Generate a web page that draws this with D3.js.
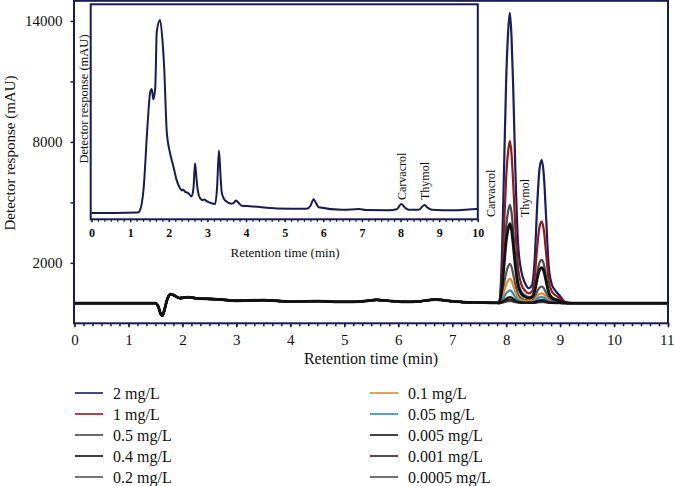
<!DOCTYPE html>
<html><head><meta charset="utf-8">
<script src="https://cdn.jsdelivr.net/npm/d3@7"></script>
<style>body{margin:0;background:#fff}svg{display:block}text{font-family:"Liberation Serif","Times New Roman",serif;fill:#111}</style>
</head><body><svg id="c" width="674" height="486"></svg>
<script>
// ---------- data ----------
const seriesLabels = ["2 mg/L","1 mg/L","0.5 mg/L","0.4 mg/L","0.2 mg/L","0.1 mg/L","0.05 mg/L","0.005 mg/L","0.001 mg/L","0.0005 mg/L"];
const seriesColors = ["#1c1c5e","#8e1b1f","#4a4a4a","#111111","#555555","#e08a2c","#3f86b0","#141414","#2e2222","#505050"];
// drawing order (darkest lines on top)
const drawOrder = [0,1,2,4,9,5,6,8,7,3];
// shared baseline section (0 - 7.8 min)
const baseT = [0,0.8,1.5,1.55,1.6,1.63,1.67,1.72,1.78,1.85,1.95,2.1,2.3,2.6,3.0,3.5,4.0,4.5,5.0,5.3,5.6,5.8,6.1,6.4,6.7,6.9,7.2,7.5,7.8];
const baseV = [0,0,0,-150,-550,-620,-300,200,450,380,250,300,220,200,120,150,80,100,60,80,160,120,60,90,180,120,50,30,10];
// peak section (7.8 - 11 min)
const peakT = [7.8,7.87,7.92,7.96,8.0,8.04,8.07,8.1,8.13,8.17,8.22,8.28,8.35,8.42,8.48,8.53,8.58,8.62,8.66,8.7,8.74,8.79,8.85,8.92,9.0,9.08,9.15,9.3,9.6,10,10.5,11];
const s2mg    = [0,100,2200,6500,11000,13600,14400,13200,10800,6700,3000,1600,1000,740,900,2200,5100,6700,7100,6300,4300,1800,900,600,350,80,20,0,0,0,0,0];
const s1mg    = [0,60,1300,3700,6200,7600,8050,7400,6000,3800,1800,950,620,480,580,1300,2900,3800,4040,3600,2500,1100,560,380,230,60,10,0,0,0,0,0];
const s05mg   = [0,40,800,2300,3800,4600,4880,4500,3600,2300,1100,580,380,300,350,720,1550,2020,2150,1920,1330,600,300,200,120,30,5,0,0,0,0,0];
const s04mg   = [0,30,650,1850,3050,3720,3950,3640,2930,1850,880,470,310,250,290,590,1270,1650,1760,1570,1090,490,250,170,100,25,5,0,0,0,0,0];
const s02mg   = [0,15,320,920,1500,1840,1950,1800,1450,920,440,240,160,130,140,280,600,770,820,730,510,230,120,80,50,15,0,0,0,0,0,0];
const s01mg   = [0,10,200,560,920,1130,1200,1110,890,570,270,150,100,85,90,170,350,450,480,430,300,140,70,50,30,10,0,0,0,0,0,0];
const s005mg  = [0,5,100,300,480,590,640,590,470,300,150,80,55,45,50,110,220,285,300,270,190,85,45,30,20,5,0,0,0,0,0,0];
const s0005mg = [0,2,50,130,220,280,300,280,220,140,70,40,30,25,28,50,100,135,150,135,95,45,25,15,10,0,0,0,0,0,0,0];
const s0001mg = [0,1,30,80,130,165,180,165,130,85,45,25,20,18,20,30,60,82,90,80,56,28,15,10,6,0,0,0,0,0,0,0];
const s00005mg= [0,1,15,45,75,95,100,95,75,48,25,15,12,10,12,18,35,46,50,45,32,16,8,5,3,0,0,0,0,0,0,0];
const peakValues = [s2mg,s1mg,s05mg,s04mg,s02mg,s01mg,s005mg,s0005mg,s0001mg,s00005mg];
// main axes ticks
const xTicks = [0,1,2,3,4,5,6,7,8,9,10,11];
const yTicks = [2000,5000,8000,11000,14000];
const yTickLabels = ["2000","","8000","","14000"];
// inset chromatogram (sample)
const insetT = [0,0.6,1.2,1.26,1.35,1.45,1.52,1.56,1.6,1.65,1.69,1.775,1.84,1.88,1.95,2.03,2.12,2.2,2.29,2.35,2.38,2.42,2.51,2.59,2.64,2.68,2.72,2.75,2.81,2.87,2.92,2.97,3.03,3.2,3.25,3.3,3.34,3.37,3.46,3.63,3.7,3.74,3.8,3.89,4.1,4.8,5.57,5.67,5.75,5.82,5.88,6.5,6.93,7.1,7.7,7.9,8.02,8.12,8.21,8.47,8.62,8.7,8.81,9.37,9.97,10];
const insetV = [0,0,2,15,120,420,580,594,545,600,870,925,820,702,384,290,223,160,119,108,112,102,95,79,120,239,160,110,71,62,65,58,52,43,120,300,180,100,60,45,52,60,50,35,33,22,20,35,66,45,28,16,19,14,13,18,43,25,16,16,38,26,16,13,19,17];
const insetTicks = [0,1,2,3,4,5,6,7,8,9,10];

// ---------- scales ----------
const svg = d3.select("#c");
const navy = "#1b1b52";
const x = d3.scaleLinear().domain([0,11]).range([74.5,668]);
const y = d3.scaleLinear().domain([-1000,15000]).range([323.3,0.8]);
const xi = d3.scaleLinear().domain([0,10]).range([91.5,477.8]);
const yi = d3.scaleLinear().domain([-30,1000]).range([219.3,4.3]);

// ---------- main series ----------
const line = d3.line().x(d=>x(d[0])).y(d=>y(d[1])).curve(d3.curveMonotoneX);
const gS = svg.append("g");
drawOrder.forEach(i=>{
  const pv = peakValues[i];
  const pts = baseT.map((t,j)=>[t,baseV[j]]).concat(peakT.map((t,j)=>[t,pv[j]]).slice(1));
  gS.append("path").attr("d",line(pts)).attr("fill","none")
    .attr("stroke",seriesColors[i]).attr("stroke-width",i===3?2.8:2.2).attr("stroke-linejoin","round");
});

// main frame
svg.append("rect").attr("x",x(0)-0.5).attr("y",y(15000)).attr("width",x(11)-x(0)+0.5).attr("height",y(-1000)-y(15000))
  .attr("fill","none").attr("stroke",navy).attr("stroke-width",2);

// main x axis
const xMinor = d3.range(0,66+1).map(i=>i/6);
const gx = svg.append("g").attr("transform",`translate(0,${y(-1000)})`);
gx.call(d3.axisBottom(x).tickValues(xMinor).tickSize(3).tickFormat(""));
gx.call(g=>g.select(".domain").remove());
gx.selectAll("line").attr("stroke",navy).attr("stroke-width",1.5);
const gx2 = svg.append("g").attr("transform",`translate(0,${y(-1000)})`)
  .call(d3.axisBottom(x).tickValues(xTicks).tickSize(4).tickPadding(7).tickFormat(d3.format("d")));
gx2.select(".domain").remove();
gx2.selectAll("line").attr("stroke",navy).attr("stroke-width",1.5);
gx2.selectAll("text").style("font-size","15px").style("font-family","Liberation Serif").attr("fill","#111");
gx2.selectAll("text").filter(d=>d===11).attr("text-anchor","end").attr("x",6);

// main y axis
const gy = svg.append("g").attr("transform",`translate(${x(0)},0)`)
  .call(d3.axisLeft(y).tickValues(yTicks).tickSize(4).tickPadding(8).tickFormat((d,i)=>yTickLabels[i]));
gy.select(".domain").remove();
gy.selectAll("line").attr("stroke",navy).attr("stroke-width",1.5);
gy.selectAll("text").style("font-size","15px").style("font-family","Liberation Serif").attr("fill","#111");

svg.append("text").attr("transform","translate(10,153) rotate(-90)").attr("text-anchor","middle").attr("dy","0.35em")
  .style("font-size","15px").text("Detector response (mAU)");
svg.append("text").attr("x",371).attr("y",358).attr("text-anchor","middle").attr("dy","0.35em")
  .style("font-size","16px").text("Retention time (min)");

// peak labels main
svg.append("text").attr("transform",`translate(${x(7.72)},217) rotate(-90)`).attr("dy","0.35em").style("font-size","12px").text("Carvacrol");
svg.append("text").attr("transform",`translate(${x(8.34)},217) rotate(-90)`).attr("dy","0.35em").style("font-size","12px").text("Thymol");

// ---------- inset ----------
svg.append("rect").attr("x",xi(0)-0.8).attr("y",yi(1000)).attr("width",xi(10)-xi(0)+0.8).attr("height",yi(-30)-yi(1000))
  .attr("fill","#fff").attr("stroke",navy).attr("stroke-width",2);
const lineI = d3.line().x(d=>xi(d[0])).y(d=>yi(d[1])).curve(d3.curveMonotoneX);
svg.append("path").attr("d",lineI(insetT.map((t,j)=>[t,insetV[j]]))).attr("fill","none")
  .attr("stroke",navy).attr("stroke-width",2).attr("stroke-linejoin","round");
const gix = svg.append("g").attr("transform",`translate(0,${yi(-30)})`)
  .call(d3.axisBottom(xi).tickValues(d3.range(0,61).map(i=>i/6)).tickSize(2.5).tickFormat(""));
gix.select(".domain").remove();
gix.selectAll("line").attr("stroke",navy).attr("stroke-width",1.3);
const gix2 = svg.append("g").attr("transform",`translate(0,${yi(-30)})`)
  .call(d3.axisBottom(xi).tickValues(insetTicks).tickSize(3).tickPadding(6).tickFormat(d3.format("d")));
gix2.select(".domain").remove();
gix2.selectAll("line").attr("stroke",navy).attr("stroke-width",1.3);
gix2.selectAll("text").style("font-size","12px").style("font-weight","bold").style("font-family","Liberation Serif").attr("fill","#111");
svg.append("text").attr("x",285).attr("y",252).attr("text-anchor","middle").attr("dy","0.35em")
  .style("font-size","13px").text("Retention time (min)");
svg.append("text").attr("transform","translate(84,99) rotate(-90)").attr("text-anchor","middle").attr("dy","0.35em")
  .style("font-size","12.5px").text("Detector response (mAU)");
svg.append("text").attr("transform",`translate(${xi(8.02)},200) rotate(-90)`).attr("dy","0.35em").style("font-size","12px").text("Carvacrol");
svg.append("text").attr("transform",`translate(${xi(8.62)},200) rotate(-90)`).attr("dy","0.35em").style("font-size","12px").text("Thymol");

// ---------- legend ----------
const lg = svg.append("g");
seriesLabels.forEach((lab,i)=>{
  const col = Math.floor(i/5), row = i%5;
  const lx = col===0 ? 75 : 370, tx = col===0 ? 113 : 408, ly = 393 + row*21;
  lg.append("line").attr("x1",lx).attr("x2",lx+28).attr("y1",ly).attr("y2",ly).attr("stroke",seriesColors[i]).attr("stroke-width",1.6);
  lg.append("text").attr("x",tx).attr("y",ly).attr("dy","0.35em").style("font-size","16px").text(lab);
});
</script></body></html>
